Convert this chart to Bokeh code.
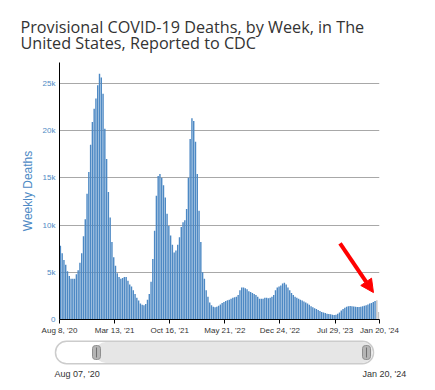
import pandas as pd
from bokeh.plotting import figure
from bokeh.models import Range1d, FixedTicker, Title, Arrow, NormalHead, ColumnDataSource
from bokeh.core.properties import value
from bokeh.layouts import column
from bokeh.embed import file_html
from bokeh.resources import INLINE

# ---------------- data ----------------
start_date = "2020-08-08"
weekly_deaths = [
    7800, 7000, 6300, 5800, 5100, 4600, 4300, 4300, 4300, 4800,
    5200, 6000, 7000, 8800, 10600, 13300, 15600, 18500, 20900, 22300,
    23400, 24800, 26000, 25600, 23900, 20200, 17000, 13500, 10800, 8200,
    6600, 5700, 4900, 4500, 4300, 4400, 4500, 4500, 4100, 3700,
    3500, 3100, 2700, 2300, 2000, 1700, 1550, 1500, 1650, 2100,
    2700, 4000, 6400, 9400, 13100, 15200, 15400, 15000, 14200, 12900,
    11200, 9900, 8900, 7900, 7100, 7300, 7900, 8700, 9800, 10300,
    10500, 11700, 15000, 19100, 21300, 21000, 18800, 15400, 11500, 8200,
    5000, 4300, 3100, 2400, 1800, 1500, 1350, 1300, 1350, 1450,
    1600, 1750, 1850, 1950, 2050, 2100, 2200, 2300, 2350, 2400,
    2600, 3100, 3400, 3400, 3300, 3200, 3000, 2900, 2800, 2700,
    2600, 2400, 2200, 2200, 2200, 2300, 2300, 2250, 2300, 2400,
    2600, 3100, 3400, 3500, 3600, 3800, 3900, 3700, 3400, 3100,
    2800, 2600, 2400, 2300, 2200, 2100, 2000, 1900, 1800, 1700,
    1550, 1400, 1300, 1200, 1100, 1000, 900, 800, 750, 700,
    620, 580, 550, 500, 480, 500, 600, 750, 950, 1100,
    1250, 1350, 1400, 1420, 1400, 1380, 1350, 1330, 1320, 1350,
    1400, 1450, 1500, 1600, 1700, 1750, 1850, 1950, 2050, 800,
]
pending_weeks = 2  # last weeks shown in grey (incomplete data)

x_tick_dates = ["2020-08-08", "2021-03-13", "2021-10-16", "2022-05-21",
                "2022-12-24", "2023-07-29", "2024-01-20"]
x_tick_labels = ["Aug 8, '20", "Mar 13, '21", "Oct 16, '21", "May 21, '22",
                 "Dec 24, '22", "Jul 29, '23", "Jan 20, '24"]
y_ticks = [0, 5000, 10000, 15000, 20000, 25000]
y_tick_labels = ["0", "5k", "10k", "15k", "20k", "25k"]

title_lines = ["Provisional COVID-19 Deaths, by Week, in The",
               "United States, Reported to CDC"]
nav_start_label = "Aug 07, '20"
nav_end_label = "Jan 20, '24"

BLUE = "#4d89c4"
GREY = "#c4c4c4"
AX_FONT = "Liberation Sans"

n = len(weekly_deaths)
x_pos = [i + 0.5 for i in range(n)]
colors = [BLUE] * (n - pending_weeks) + [GREY] * pending_weeks
t0 = pd.Timestamp(start_date)
tick_pos = [(pd.Timestamp(d) - t0).days / 7 for d in x_tick_dates]

src = ColumnDataSource(dict(x=x_pos, top=weekly_deaths, color=colors))

# ---------------- main chart ----------------
p = figure(width=435, height=337, x_range=Range1d(0, tick_pos[-1]), y_range=Range1d(0, 27200),
           output_backend="svg", toolbar_location=None, title=None,
           min_border_left=59, min_border_right=56, min_border_top=62, min_border_bottom=18)
p.outline_line_color = None

p.add_layout(Title(text="\n".join(title_lines), text_font="Open Sans", text_font_size="16.2px",
                   text_font_style="normal", text_color="#333333", text_line_height=0.74,
                   align="left", offset=-39, standoff=16), "above")

p.vbar(x="x", top="top", width=0.8, color="color", line_color=None, source=src)

p.xgrid.grid_line_color = None
p.ygrid.grid_line_color = "#a8a8a8"
p.ygrid.grid_line_width = 1

p.xaxis.ticker = FixedTicker(ticks=tick_pos)
p.xaxis.major_label_overrides = {t: l for t, l in zip(tick_pos, x_tick_labels)}
p.xaxis.axis_line_color = "black"
p.xaxis.major_tick_line_color = "black"
p.xaxis.major_tick_out = 4
p.xaxis.major_tick_in = 0
p.xaxis.minor_tick_line_color = None
p.xaxis.major_label_text_font = AX_FONT
p.xaxis.major_label_text_font_size = "8px"
p.xaxis.major_label_text_color = "#333333"
p.xaxis.major_label_standoff = 2

p.yaxis.ticker = FixedTicker(ticks=y_ticks)
p.yaxis.major_label_overrides = {t: l for t, l in zip(y_ticks, y_tick_labels)}
p.yaxis.axis_line_color = "black"
p.yaxis.major_tick_out = 0
p.yaxis.major_tick_in = 0
p.yaxis.minor_tick_line_color = None
p.yaxis.major_label_text_font = AX_FONT
p.yaxis.major_label_text_font_size = "8px"
p.yaxis.major_label_text_color = BLUE
p.yaxis.major_label_standoff = 4
p.yaxis.axis_label = "Weekly Deaths"
p.yaxis.axis_label_text_font = AX_FONT
p.yaxis.axis_label_text_font_size = "12px"
p.yaxis.axis_label_text_font_style = "normal"
p.yaxis.axis_label_text_color = BLUE
p.yaxis.axis_label_standoff = 5

# red arrow pointing at the latest week
p.add_layout(Arrow(x_start=157.8, y_start=8050, x_end=176.6, y_end=2850,
                   line_color="red", line_width=4,
                   end=NormalHead(size=13, fill_color="red", line_color="red", line_width=1)))

# ---------------- navigator ----------------
nav = figure(width=435, height=53, x_range=Range1d(0, 435), y_range=Range1d(53, 0),
             output_backend="svg", toolbar_location=None, title=None,
             min_border_left=0, min_border_right=0, min_border_top=0, min_border_bottom=0)
nav.axis.visible = False
nav.grid.visible = False
nav.outline_line_color = None
for fig in (p, nav):
    if "frame_align" in fig.properties():
        fig.frame_align = False

nav.quad(left=[55], right=[373], top=[3.7], bottom=[26.3], fill_color="white",
         line_color="#cccccc", line_width=1.5, border_radius=11)
nav.quad(left=[95], right=[372], top=[4.5], bottom=[25.5], fill_color="#e6e6e6",
         line_color=None, border_radius=11)
for lx in (92, 362):
    nav.quad(left=[lx], right=[lx + 8], top=[8], bottom=[22], fill_color="#b5b5b5",
             line_color="#8f8f8f", line_width=1, border_radius=3)
    nav.segment(x0=[lx + 4], y0=[10], x1=[lx + 4], y1=[20], line_color="#707070", line_width=1)

nav.text(x=[54, 362], y=[36.5, 36.5], text=[nav_start_label, nav_end_label],
         text_font=value(AX_FONT), text_font_size=value("9px"), text_color="#333333",
         text_baseline="middle", text_align="left")

layout = column(p, nav, spacing=0)
open("out.html", "w").write(file_html(layout, INLINE))
